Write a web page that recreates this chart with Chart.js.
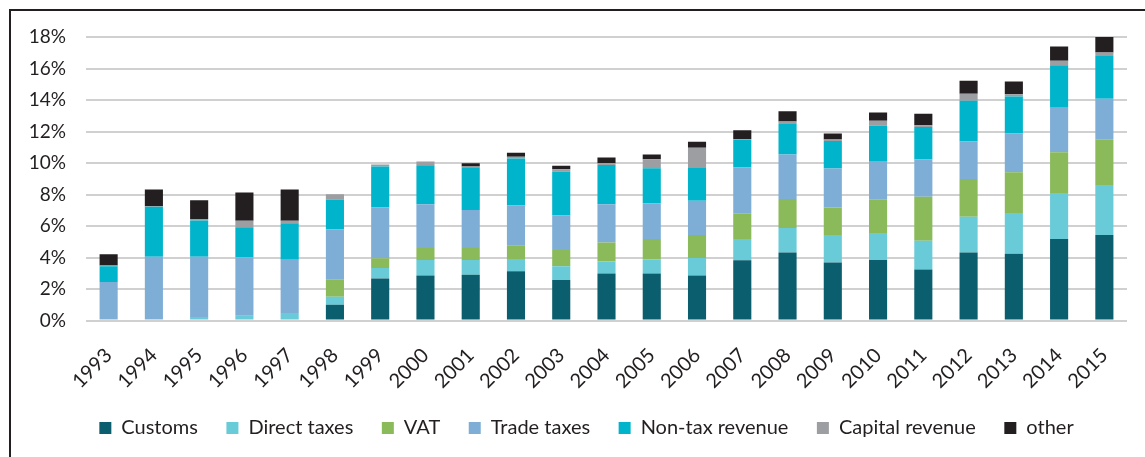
<!DOCTYPE html>
<html>
<head>
<meta charset="utf-8">
<script src="https://cdn.jsdelivr.net/npm/chart.js@4"></script>
<style>
  html, body { margin: 0; padding: 0; background: #fff; }
  #wrap { position: relative; width: 1145px; height: 457px; overflow: hidden; }
  #frame { position: absolute; left: 9px; top: 9px; width: 1200px; height: 500px;
           border-left: 2px solid #231f20; border-top: 2px solid #231f20; pointer-events: none; }
  canvas { position: absolute; left: 0; top: 0; }
</style>
</head>
<body>
<div id="wrap">
  <canvas id="revenueChart" width="1145" height="457"></canvas>
  <div id="frame"></div>
</div>
<script>
const years = ['1993','1994','1995','1996','1997','1998','1999','2000','2001','2002','2003','2004',
  '2005','2006','2007','2008','2009','2010','2011','2012','2013','2014','2015'];

// % of GDP
const customs    = [0, 0, 0, 0, 0, 1.00, 2.67, 2.86, 2.91, 3.12, 2.57, 2.99, 2.99, 2.86, 3.82, 4.31, 3.69, 3.84, 3.24, 4.31, 4.24, 5.18, 5.43];
const directTax  = [0.10, 0.10, 0.22, 0.30, 0.47, 0.51, 0.66, 0.98, 0.93, 0.78, 0.87, 0.76, 0.89, 1.11, 1.36, 1.57, 1.74, 1.72, 1.83, 2.27, 2.59, 2.92, 3.18];
const vat        = [0, 0, 0, 0, 0, 1.08, 0.62, 0.76, 0.76, 0.87, 1.04, 1.21, 1.30, 1.46, 1.59, 1.84, 1.74, 2.10, 2.78, 2.41, 2.59, 2.59, 2.87];
const tradeTax   = [2.35, 3.95, 3.83, 3.71, 3.39, 3.18, 3.22, 2.78, 2.42, 2.53, 2.18, 2.42, 2.26, 2.18, 2.94, 2.82, 2.48, 2.46, 2.37, 2.38, 2.46, 2.82, 2.60];
const nonTax     = [1.00, 3.18, 2.30, 1.91, 2.31, 1.91, 2.61, 2.48, 2.71, 2.99, 2.78, 2.50, 2.23, 2.08, 1.79, 1.93, 1.74, 2.24, 2.06, 2.59, 2.35, 2.69, 2.71];
const capitalRev = [0.05, 0.03, 0.09, 0.42, 0.17, 0.34, 0.12, 0.24, 0.05, 0.10, 0.17, 0.11, 0.57, 1.28, 0.03, 0.17, 0.11, 0.32, 0.12, 0.44, 0.13, 0.30, 0.22];
const other      = [0.70, 1.06, 1.20, 1.78, 1.97, 0, 0, 0, 0.21, 0.26, 0.21, 0.36, 0.30, 0.38, 0.55, 0.64, 0.38, 0.53, 0.73, 0.83, 0.81, 0.89, 1.06];

const yTicks = [0, 2, 4, 6, 8, 10, 12, 14, 16, 18];

const FONT = 'Lato, "Open Sans", sans-serif';
const TEXT = '#231f20';

function series(label, data, color) {
  return {
    label: label,
    data: data,
    backgroundColor: color,
    borderColor: color,
    borderWidth: 0,
    categoryPercentage: 1,
    barPercentage: 0.4
  };
}

// the legend in the original sits a little right of centre
const legendShift = {
  id: 'legendShift',
  afterLayout(chart) {
    chart.legend.left += 23;
    chart.legend.right += 23;
  }
};

const ctx = document.getElementById('revenueChart').getContext('2d');
const chart = new Chart(ctx, {
  type: 'bar',
  data: {
    labels: years,
    datasets: [
      series('Customs', customs, '#0b5e6e'),
      series('Direct taxes', directTax, '#68cbd7'),
      series('VAT', vat, '#8bba5b'),
      series('Trade taxes', tradeTax, '#7eaed6'),
      series('Non-tax revenue', nonTax, '#00b5cb'),
      series('Capital revenue', capitalRev, '#9c9ea2'),
      series('other', other, '#231f20')
    ]
  },
  plugins: [legendShift],
  options: {
    responsive: false,
    animation: false,
    layout: { padding: { top: 37, left: 0, right: 18, bottom: 9 } },
    plugins: {
      tooltip: { enabled: false },
      legend: {
        position: 'bottom',
        labels: {
          boxWidth: 12,
          boxHeight: 12,
          padding: 28.5,
          color: TEXT,
          font: { family: FONT, size: 20 }
        }
      }
    },
    scales: {
      x: {
        stacked: true,
        grid: { display: false },
        border: { display: false },
        ticks: {
          color: TEXT,
          font: { family: FONT, size: 20 },
          minRotation: 45,
          maxRotation: 45,
          padding: 15
        },
        afterFit(scale) { scale.height = 69; }
      },
      y: {
        stacked: true,
        min: 0,
        max: 18,
        afterBuildTicks(scale) { scale.ticks = yTicks.map(v => ({ value: v })); },
        grid: { color: '#d0d0d0', lineWidth: 2, drawTicks: false },
        border: { display: false },
        ticks: {
          color: TEXT,
          font: { family: FONT, size: 19 },
          padding: 20,
          callback: v => v + '%'
        },
        afterFit(scale) { scale.width = 86; }
      }
    }
  }
});
</script>
</body>
</html>
